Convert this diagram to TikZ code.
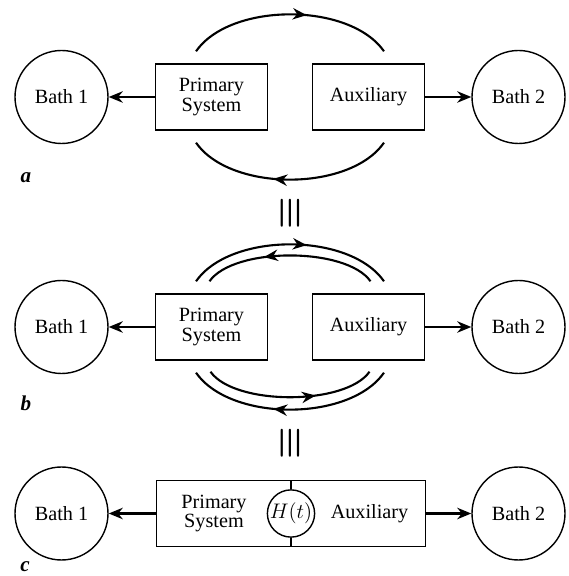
\documentclass[tikz,border=0pt]{standalone}
\usepackage{amssymb, amsmath}
\usepackage{fontspec}
\setmainfont{Liberation Serif}
\usetikzlibrary{arrows.meta, decorations.markings}

\newcommand{\diafont}{\fontsize{11.5}{11}\selectfont}

\tikzset{
  every node/.style={font=\diafont},
  bath/.style={circle, draw, line width=0.8pt, minimum size=1.86cm},
  sys/.style={rectangle, draw, line width=0.8pt, minimum width=2.24cm, minimum height=1.32cm, align=center},
  flow/.style={line width=1.25pt, -{Stealth[length=8pt, width=6.5pt]}},
  arcflow/.style={line width=1.2pt, postaction={decorate}, decoration={markings, mark=at position #1 with {\arrow{Stealth[length=8pt, width=6.5pt]}}}},
  panel/.style={font=\large\bfseries\itshape, anchor=base},
  equiv/.style={rotate=90, font=\fontsize{21}{21}\selectfont}
}

\begin{document}
\begin{tikzpicture}
  \useasboundingbox (0, 0) rectangle (11.38, 11.52);

  % a
  \node [bath] (bath1a) at (1.23, 9.58) {Bath 1};
  \node [bath] (bath2a) at (10.37, 9.58) {Bath 2};
  \node [sys] (psa) at (4.23, 9.58) {Primary\\System};
  \node [sys] (auxa) at (7.37, 9.58) {Auxiliary};
  \draw [flow] (psa) -- (bath1a);
  \draw [flow] (auxa) -- (bath2a);
  \coordinate (topla) at ([xshift=-0.31cm, yshift=0.24cm] psa.north);
  \coordinate (topra) at ([xshift=0.31cm, yshift=0.24cm] auxa.north);
  \coordinate (botla) at ([xshift=-0.31cm, yshift=-0.24cm] psa.south);
  \coordinate (botra) at ([xshift=0.31cm, yshift=-0.24cm] auxa.south);
  \draw [arcflow=0.58] (topla) to [out=55, in=125, looseness=0.82] (topra);
  \draw [arcflow=0.58] (botra) to [out=-125, in=-55, looseness=0.82] (botla);
  \node [panel] (laba) at (0.52, 7.86) {a};

  \node [equiv] (eqab) at (5.8, 7.26) {$\boldsymbol{\equiv}$};

  % b
  \node [bath] (bath1b) at (1.23, 4.98) {Bath 1};
  \node [bath] (bath2b) at (10.37, 4.98) {Bath 2};
  \node [sys] (psb) at (4.23, 4.98) {Primary\\System};
  \node [sys] (auxb) at (7.37, 4.98) {Auxiliary};
  \draw [flow] (psb) -- (bath1b);
  \draw [flow] (auxb) -- (bath2b);
  \coordinate (toplb) at ([xshift=-0.31cm, yshift=0.24cm] psb.north);
  \coordinate (toprb) at ([xshift=0.31cm, yshift=0.24cm] auxb.north);
  \coordinate (botlb) at ([xshift=-0.31cm, yshift=-0.24cm] psb.south);
  \coordinate (botrb) at ([xshift=0.31cm, yshift=-0.24cm] auxb.south);
  \coordinate (intlb) at ([xshift=-0.04cm, yshift=0.24cm] psb.north);
  \coordinate (intrb) at ([xshift=0.04cm, yshift=0.24cm] auxb.north);
  \coordinate (inblb) at ([xshift=-0.02cm, yshift=-0.22cm] psb.south);
  \coordinate (inbrb) at ([xshift=0.02cm, yshift=-0.22cm] auxb.south);
  \draw [arcflow=0.58] (toplb) to [out=55, in=125, looseness=0.82] (toprb);
  \draw [arcflow=0.65] (intrb) to [out=125, in=55, looseness=0.67] (intlb);
  \draw [arcflow=0.58] (botrb) to [out=-125, in=-55, looseness=0.82] (botlb);
  \draw [arcflow=0.65] (inblb) to [out=-55, in=-125, looseness=0.67] (inbrb);
  \node [panel] (labb) at (0.52, 3.30) {b};

  \node [equiv] (eqbc) at (5.8, 2.66) {$\boldsymbol{\equiv}$};

  % c
  \node [bath] (bath1c) at (1.23, 1.25) {Bath 1};
  \node [bath] (bath2c) at (10.37, 1.25) {Bath 2};
  \node [sys, minimum width=5.38cm] (boxc) at (5.82, 1.25) {};
  \node [align=center] (psc) at (4.28, 1.25) {Primary\\System};
  \node (auxc) at (7.39, 1.25) {Auxiliary};
  \node [circle, draw, line width=0.8pt, minimum size=0.94cm, inner sep=0pt] (htc) at (5.82, 1.25) {$H(t)$};
  \draw [line width=0.8pt] (htc.north) -- (htc.north |- boxc.north);
  \draw [line width=0.8pt] (htc.south) -- (htc.south |- boxc.south);
  \draw [flow] (boxc) -- (bath1c);
  \draw [flow] (boxc) -- (bath2c);
  \node [panel] (labc) at (0.50, 0.08) {c};

\end{tikzpicture}
\end{document}
